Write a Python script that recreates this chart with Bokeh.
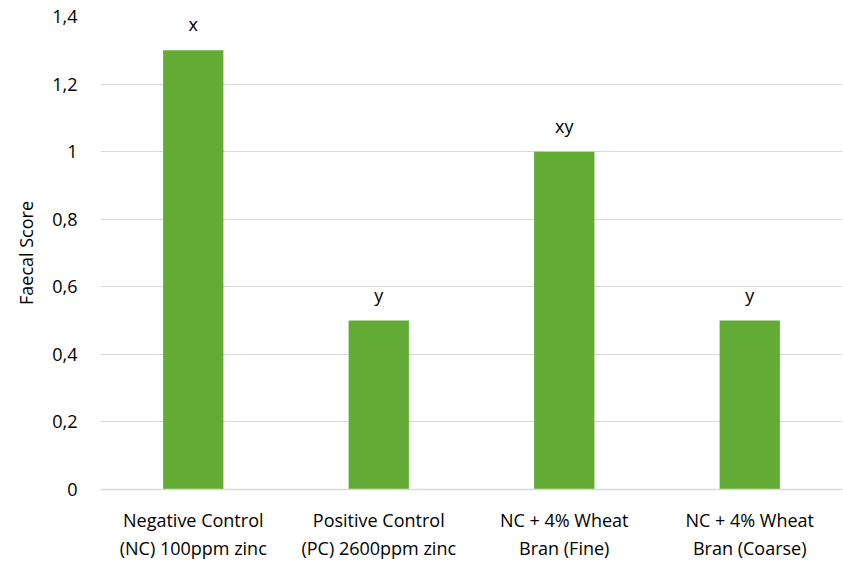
from bokeh.plotting import figure
from bokeh.models import ColumnDataSource, FixedTicker, CustomJSTickFormatter, LabelSet, Range1d
from bokeh.core.properties import value
from bokeh.embed import file_html
from bokeh.resources import INLINE

categories = ["Negative Control\n(NC) 100ppm zinc", "Positive Control\n(PC) 2600ppm zinc",
              "NC + 4% Wheat\nBran (Fine)", "NC + 4% Wheat\nBran (Coarse)"]
values = [1.3, 0.5, 1.0, 0.5]
letters = ["x", "y", "xy", "y"]
y_ticks = [0, 0.2, 0.4, 0.6, 0.8, 1.0, 1.2, 1.4]

FONT = "Open Sans"
src = ColumnDataSource(dict(k=categories, v=values, t=letters))

p = figure(x_range=categories, y_range=Range1d(0, 1.4), width=843, height=563,
           output_backend="svg", toolbar_location=None,
           min_border_left=100, min_border_right=1, min_border_top=16, min_border_bottom=73)
p.outline_line_color = None
p.vbar(x="k", top="v", width=0.325, source=src, fill_color="#62AC35", line_color=None)

labels = LabelSet(x="k", y="v", text="t", source=src, y_offset=14, text_align="center",
                  text_baseline="bottom", text_font=value(FONT), text_font_size="18px",
                  text_color="#000000")
p.add_layout(labels)

p.yaxis.ticker = FixedTicker(ticks=y_ticks)
p.yaxis.formatter = CustomJSTickFormatter(code="return String(Math.round(tick*10)/10).replace('.', ',');")
p.yaxis.axis_line_color = None
p.yaxis.major_tick_line_color = None
p.yaxis.minor_tick_line_color = None
p.yaxis.major_label_text_font = FONT
p.yaxis.major_label_text_font_size = "18px"
p.yaxis.major_label_text_color = "#000000"
p.yaxis.major_label_standoff = 17
p.yaxis.axis_label = "Faecal Score"
p.yaxis.axis_label_text_font = FONT
p.yaxis.axis_label_text_font_size = "18px"
p.yaxis.axis_label_text_font_style = "normal"
p.yaxis.axis_label_text_color = "#000000"
p.yaxis.axis_label_standoff = 11

p.xaxis.axis_line_color = "#D9D9D9"
p.xaxis.axis_line_width = 1.5
p.xaxis.major_tick_line_color = None
p.xaxis.minor_tick_line_color = None
p.xaxis.major_label_text_font = FONT
p.xaxis.major_label_text_font_size = "18px"
p.xaxis.major_label_text_color = "#000000"
p.xaxis.major_label_standoff = 12
p.xgrid.grid_line_color = None
p.ygrid.grid_line_color = "#D9D9D9"
p.ygrid.grid_line_width = 1.2

open("out.html", "w").write(file_html(p, INLINE))
